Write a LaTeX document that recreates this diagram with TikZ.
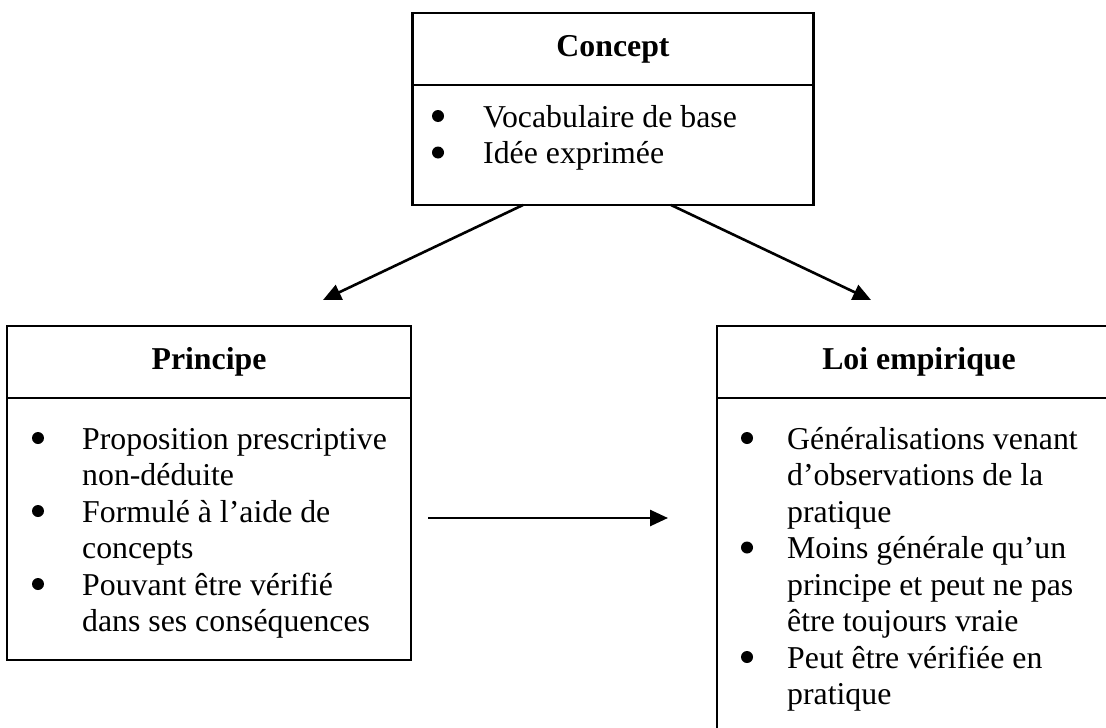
\documentclass[tikz,border=0pt]{standalone}
\usepackage{fontspec}
\setmainfont{Liberation Serif}
\usetikzlibrary{arrows.meta}
\tikzset{
  texte/.style={font=\fontsize{31.8}{36.5}\selectfont},
  titre/.style={draw, line width=2.4pt, minimum width=#1, minimum height=72,
    inner sep=0, font=\fontsize{31.8}{36.5}\selectfont\bfseries},
  corps/.style={draw, line width=2.4pt, minimum width=#1, inner sep=0},
  ligne/.style={texte, anchor=base west, inner sep=0},
  puce/.style={circle, fill, inner sep=0, minimum size=12},
  fleche/.style={line width=2.6pt, -{Triangle[length=18pt, width=16pt]}}
}
\begin{document}
\begin{tikzpicture}[x=1pt, y=-1pt]
      \clip (0,0) rectangle (1106,728);
      % boites
      \node[titre=401] (concepttitre) at (613,49) {Concept};
      \node[corps=401, minimum height=120] (conceptcorps) at (613,145) {};
      \node[titre=404] (principetitre) at (209,362) {Principe};
      \node[corps=404, minimum height=262] (principecorps) at (209,529) {};
      \node[titre=404] (loititre) at (919,362) {Loi empirique};
      \node[corps=404, minimum height=392] (loicorps) at (919,594) {};
      % concept
      \node[puce] (c1) at (438,116) {};
      \node[puce] (c2) at (438,152.5) {};
      \node[ligne] (cl1) at (483,127) {Vocabulaire de base};
      \node[ligne] (cl2) at (483,163.5) {Idée exprimée};
      % principe
      \node[puce] (p1) at (38,438) {};
      \node[puce] (p2) at (38,511) {};
      \node[puce] (p3) at (38,584) {};
      \node[ligne] (pl1) at (82,449) {Proposition prescriptive};
      \node[ligne] (pl2) at (82,485.5) {non-déduite};
      \node[ligne] (pl3) at (82,522) {Formulé à l’aide de};
      \node[ligne] (pl4) at (82,558.5) {concepts};
      \node[ligne] (pl5) at (82,595) {Pouvant être vérifié};
      \node[ligne] (pl6) at (82,631.5) {dans ses conséquences};
      % loi empirique
      \node[puce] (l1) at (747,438) {};
      \node[puce] (l2) at (747,547.5) {};
      \node[puce] (l3) at (747,657) {};
      \node[ligne] (ll1) at (787,449) {Généralisations venant};
      \node[ligne] (ll2) at (787,485.5) {d’observations de la};
      \node[ligne] (ll3) at (787,522) {pratique};
      \node[ligne] (ll4) at (787,558.5) {Moins générale qu’un};
      \node[ligne] (ll5) at (787,595) {principe et peut ne pas};
      \node[ligne] (ll6) at (787,631.5) {être toujours vraie};
      \node[ligne] (ll7) at (787,668) {Peut être vérifiée en};
      \node[ligne] (ll8) at (787,704.5) {pratique};
      % fleches
      \coordinate (departg) at (523,205);
      \coordinate (departd) at (671,205);
      \coordinate (versprincipe) at (323,300);
      \coordinate (versloi) at (871,300);
      \coordinate (departh) at (428,518);
      \coordinate (arriveeh) at (668,518);
      \begin{scope}[fleche]
        \draw (departg) to (versprincipe);
        \draw (departd) to (versloi);
        \draw (departh) to (arriveeh);
      \end{scope}
    \end{tikzpicture}
\end{document}
